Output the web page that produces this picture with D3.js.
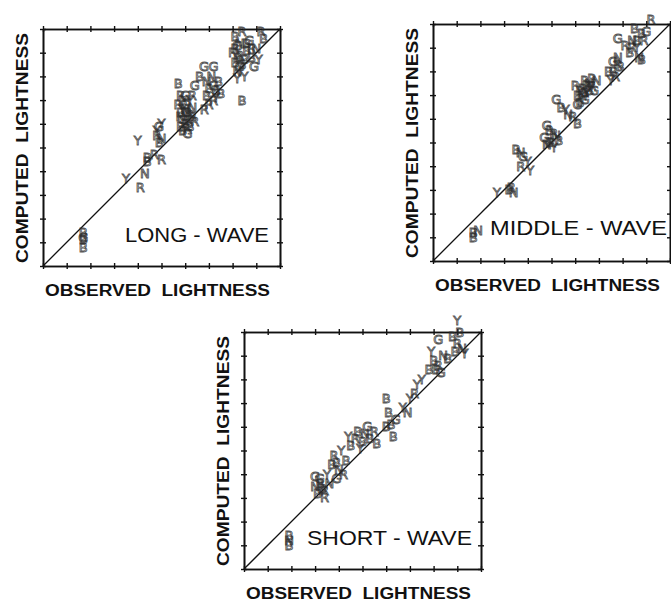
<!DOCTYPE html>
<html>
<head>
<meta charset="utf-8">
<script src="https://cdn.jsdelivr.net/npm/d3@7"></script>
<style>
  body { margin: 0; background: #fff; }
  svg { display: block; }
  .frame path.domain { stroke: #111; stroke-width: 1.6; }
  .frame line { stroke: #111; stroke-width: 1.4; }
  .lbl { font-family: "Liberation Sans", Arial, sans-serif; fill: #111; white-space: pre; }
  .pt { font-family: "DejaVu Sans", sans-serif; font-size: 13px; fill: none; stroke: #2a2a2a; stroke-width: 0.9; stroke-opacity: 0.8; }
</style>
</head>
<body>
<svg id="chart" width="671" height="606"></svg>
<script>
// observed vs computed lightness, [letter, observed, computed]
var longWave = [
  ["B",17,14],["B",17,11],["B",17,8],["G",17,12],
  ["Y",35,37],["R",41,33],["N",43,39],["B",44,44],["B",44,46],
  ["Y",40,53],["R",47,47],["R",50,45],["Y",48,57],["G",49,59],["Y",50,60],["R",48,55],["B",49,52],["N",50,54],
  ["R",57,68],["B",58,65],["G",59,62],["B",60,60],["R",61,58],["N",60,66],["Y",62,70],["B",63,63],
  ["G",61,56],["R",62,64],["B",59,70],["N",63,67],["B",58,59],["G",60,72],["R",64,61],
  ["B",59,57],["R",61,62],["N",58,63],["B",62,59],["G",60,68],["R",63,72],["B",61,65],["Y",59,66],
  ["B",57,77],["R",58,72],["G",64,76],["G",68,84],["G",72,84],["B",66,80],
  ["B",69,72],["R",70,68],["G",72,76],["N",71,80],["B",74,78],["Y",73,71],["R",68,66],["B",75,73],
  ["B",70,75],["R",72,70],["N",69,78],["B",73,74],
  ["B",81,97],["G",82,93],["R",83,89],["B",84,85],["N",82,82],["Y",85,80],["B",86,91],["G",87,95],
  ["R",84,99],["B",88,88],["N",90,92],["R",92,99],["B",93,96],["G",89,84],["Y",91,87],["B",81,86],
  ["R",80,90],["B",84,70],["B",82,88],["N",83,94],["R",81,92],["B",85,87],["G",83,84],["Y",82,79],
  ["B",86,94],["R",88,92]
];
var middleWave = [
  ["B",17,10],["B",17,12],["N",19,13],
  ["Y",27,29],["B",32,30],["R",33,31],["N",34,29],
  ["B",35,47],["N",37,46],["R",37,40],["Y",40,42],["Y",41,38],["G",38,44],
  ["G",47,52],["B",49,55],["R",50,50],["N",52,53],["Y",51,48],["B",53,51],["G",48,57],
  ["B",49,50],["R",51,54],["N",48,49],
  ["G",52,68],["B",54,65],["Y",56,64],["B",61,58],["R",59,61],["N",57,62],
  ["B",61,70],["R",63,73],["G",64,68],["N",66,75],["Y",65,71],["B",67,77],["R",60,74],["G",68,72],
  ["B",62,67],["N",69,76],["R",64,76],["B",62,72],["R",65,74],["N",63,70],["B",66,72],["G",61,66],
  ["B",64,71],["R",67,74],
  ["B",74,80],["G",76,84],["R",77,78],["N",78,86],["Y",75,76],["B",79,82],["B",76,80],["R",78,83],
  ["G",78,94],["R",81,91],["B",83,88],["N",84,93],["Y",86,90],["B",88,96],["R",89,93],["G",90,97],
  ["B",88,85],["R",92,102],["B",85,98],["N",87,86],["B",86,93],["R",84,90]
];
var shortWave = [
  ["B",19,14],["B",19,10],["N",19,12],
  ["N",30,35],["B",31,32],["G",32,38],["R",34,30],["Y",35,40],["B",33,34],["N",36,36],["G",30,39],
  ["B",32,36],["R",34,33],
  ["B",37,44],["R",38,48],["N",40,42],["Y",41,50],["B",43,46],["G",39,38],["R",42,40],["B",39,45],
  ["B",45,52],["R",47,55],["Y",49,51],["N",51,57],["B",53,55],["G",52,60],["R",55,58],["B",48,58],
  ["Y",44,56],["B",56,53],["B",50,54],
  ["B",60,72],["B",61,66],["B",62,61],["B",63,56],["G",64,63],["B",60,60],
  ["Y",67,68],["Y",70,72],["R",72,74],["Y",73,78],["N",69,66],["Y",75,80],
  ["B",78,84],["B",80,88],["R",82,86],["N",84,90],["Y",79,92],["B",86,89],["G",83,83],["B",81,84],
  ["G",82,97],["Y",90,105],["B",88,98],["R",90,95],["N",92,93],["B",91,100],["Y",93,91],["B",89,92]
];
var panelNames = ["LONG - WAVE", "MIDDLE - WAVE", "SHORT - WAVE"];
var tickValues = d3.range(0, 101, 10);

var svg = d3.select("#chart");
var SIZE = 237;

var panels = [
  { data: longWave,   x0: 43,  y0: 29,  name: panelNames[0], nameX: 125, nameY: 242, nameW: 144 },
  { data: middleWave, x0: 433, y0: 24,  name: panelNames[1], nameX: 490, nameY: 235, nameW: 177 },
  { data: shortWave,  x0: 244, y0: 332, name: panelNames[2], nameX: 307, nameY: 545, nameW: 165 }
];

function drawPanel(p) {
  var x = d3.scaleLinear().domain([0, 100]).range([0, SIZE]);
  var y = d3.scaleLinear().domain([0, 100]).range([SIZE, 0]);
  var g = svg.append("g").attr("transform", "translate(" + p.x0 + "," + p.y0 + ")");

  // frame with ticks crossing both sides
  var sides = [
    [d3.axisBottom(x), SIZE, "x"], [d3.axisTop(x), SIZE, "x"],
    [d3.axisTop(x), 0, "x"], [d3.axisBottom(x), 0, "x"],
    [d3.axisLeft(y), 0, "y"], [d3.axisRight(y), 0, "y"],
    [d3.axisRight(y), SIZE, "y"], [d3.axisLeft(y), SIZE, "y"]
  ];
  sides.forEach(function (s) {
    var a = s[0].tickValues(tickValues).tickSize(3).tickSizeOuter(0).tickFormat("");
    var t = s[2] == "x" ? "translate(0," + s[1] + ")" : "translate(" + s[1] + ",0)";
    g.append("g").attr("class", "frame").attr("transform", t).call(a);
  });

  g.append("line")
    .attr("x1", x(0)).attr("y1", y(0))
    .attr("x2", x(100)).attr("y2", y(100))
    .attr("stroke", "#111").attr("stroke-width", 1.3);

  g.selectAll("text.pt")
    .data(p.data)
    .enter()
    .append("text")
    .attr("class", "pt")
    .attr("x", function (d) { return x(d[1]); })
    .attr("y", function (d) { return y(d[2]); })
    .attr("text-anchor", "middle")
    .attr("dy", "0.35em")
    .text(function (d) { return d[0]; });

  svg.append("text")
    .attr("class", "lbl")
    .attr("x", p.nameX).attr("y", p.nameY)
    .attr("font-size", 21)
    .attr("textLength", p.nameW).attr("lengthAdjust", "spacingAndGlyphs")
    .text(p.name);

  svg.append("text")
    .attr("class", "lbl")
    .attr("x", p.x0 + 2).attr("y", p.y0 + SIZE + 30)
    .attr("font-size", 16).attr("font-weight", "bold")
    .attr("textLength", 225).attr("lengthAdjust", "spacingAndGlyphs")
    .text("OBSERVED  LIGHTNESS");

  svg.append("text")
    .attr("class", "lbl")
    .attr("transform", "translate(" + (p.x0 - 15) + "," + (p.y0 + SIZE - 3) + ") rotate(-90)")
    .attr("font-size", 16).attr("font-weight", "bold")
    .attr("textLength", 230).attr("lengthAdjust", "spacingAndGlyphs")
    .text("COMPUTED  LIGHTNESS");
}

panels.forEach(drawPanel);
</script>
</body>
</html>
